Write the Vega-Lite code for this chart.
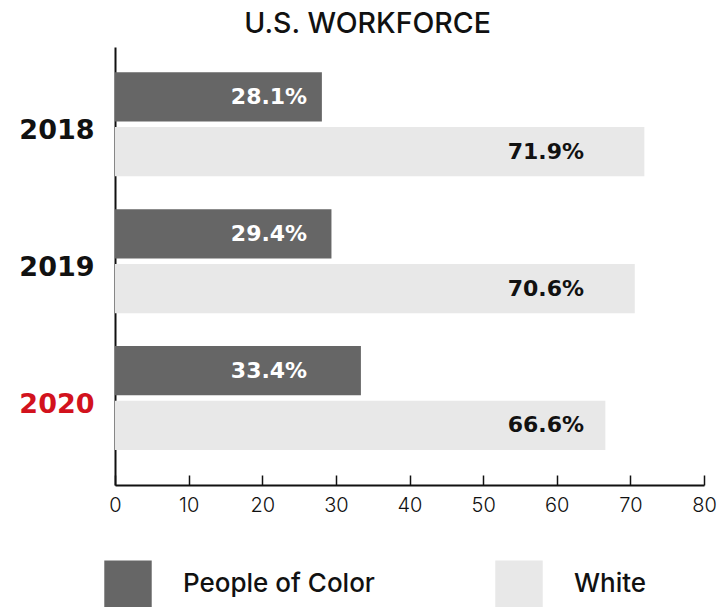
{
  "$schema": "https://vega.github.io/schema/vega-lite/v6.json",
  "width": 589,
  "height": 438,
  "padding": {"left": 18, "top": 9, "right": 10, "bottom": 0},
  "background": "white",
  "title": {"text": "U.S. WORKFORCE", "fontSize": 28.5, "font": "Inter", "fontWeight": 500, "color": "#111111", "anchor": "middle", "frame": "bounds", "offset": 9},
  "data": {"values": [
    {"year": "2018", "group": "People of Color", "value": 28.1, "label": "28.1%"},
    {"year": "2018", "group": "White", "value": 71.9, "label": "71.9%"},
    {"year": "2019", "group": "People of Color", "value": 29.4, "label": "29.4%"},
    {"year": "2019", "group": "White", "value": 70.6, "label": "70.6%"},
    {"year": "2020", "group": "People of Color", "value": 33.4, "label": "33.4%"},
    {"year": "2020", "group": "White", "value": 66.6, "label": "66.6%"}
  ]},
  "encoding": {
    "y": {"field": "year", "type": "nominal", "sort": ["2018", "2019", "2020"],
      "scale": {"paddingInner": 0.24, "paddingOuter": 0.22, "align": 0.42},
      "axis": {"title": null, "ticks": false, "domainColor": "#111111", "domainWidth": 2,
        "labelFont": "DejaVu Sans", "labelFontWeight": "bold", "labelFontSize": 27, "labelPadding": 21, "labelOffset": 7,
        "labelColor": {"condition": {"test": "datum.value == '2020'", "value": "#d2121d"}, "value": "#111111"}}},
    "yOffset": {"field": "group", "type": "nominal", "sort": ["People of Color", "White"], "scale": {"paddingInner": 0.1}}
  },
  "layer": [
    {
      "mark": {"type": "bar"},
      "encoding": {
        "x": {"field": "value", "type": "quantitative", "scale": {"domain": [0, 80], "nice": false},
          "axis": {"title": null, "grid": false, "values": [0, 10, 20, 30, 40, 50, 60, 70, 80], "labelFlush": false,
            "domainColor": "#111111", "domainWidth": 2, "tickColor": "#111111", "tickWidth": 1.5, "tickSize": -10,
            "labelFont": "Inter", "labelFontWeight": 300, "labelFontSize": 20, "labelColor": "#111111", "labelPadding": 20}},
        "color": {"field": "group", "type": "nominal",
          "scale": {"domain": ["People of Color", "White"], "range": ["#666666", "#e8e8e8"]},
          "legend": {"title": null, "orient": "none", "legendX": -11, "legendY": 513, "direction": "horizontal",
            "symbolType": "square", "symbolSize": 2250, "symbolStrokeWidth": 0, "symbolOpacity": 1,
            "labelFont": "Inter", "labelFontWeight": 500, "labelFontSize": 26, "labelColor": "#111111",
            "labelOffset": 31, "columnPadding": 120, "labelLimit": 300}}
      }
    },
    {
      "transform": [{"filter": "datum.group == 'People of Color'"}],
      "mark": {"type": "text", "align": "right", "baseline": "middle", "font": "DejaVu Sans", "fontWeight": "bold", "fontSize": 22, "color": "white"},
      "encoding": {
        "x": {"datum": 26.1, "type": "quantitative"},
        "text": {"field": "label"}
      }
    },
    {
      "transform": [{"filter": "datum.group == 'White'"}],
      "mark": {"type": "text", "align": "right", "baseline": "middle", "font": "DejaVu Sans", "fontWeight": "bold", "fontSize": 22, "color": "#111111"},
      "encoding": {
        "x": {"datum": 63.7, "type": "quantitative"},
        "text": {"field": "label"}
      }
    }
  ],
  "config": {"view": {"stroke": null}}
}
